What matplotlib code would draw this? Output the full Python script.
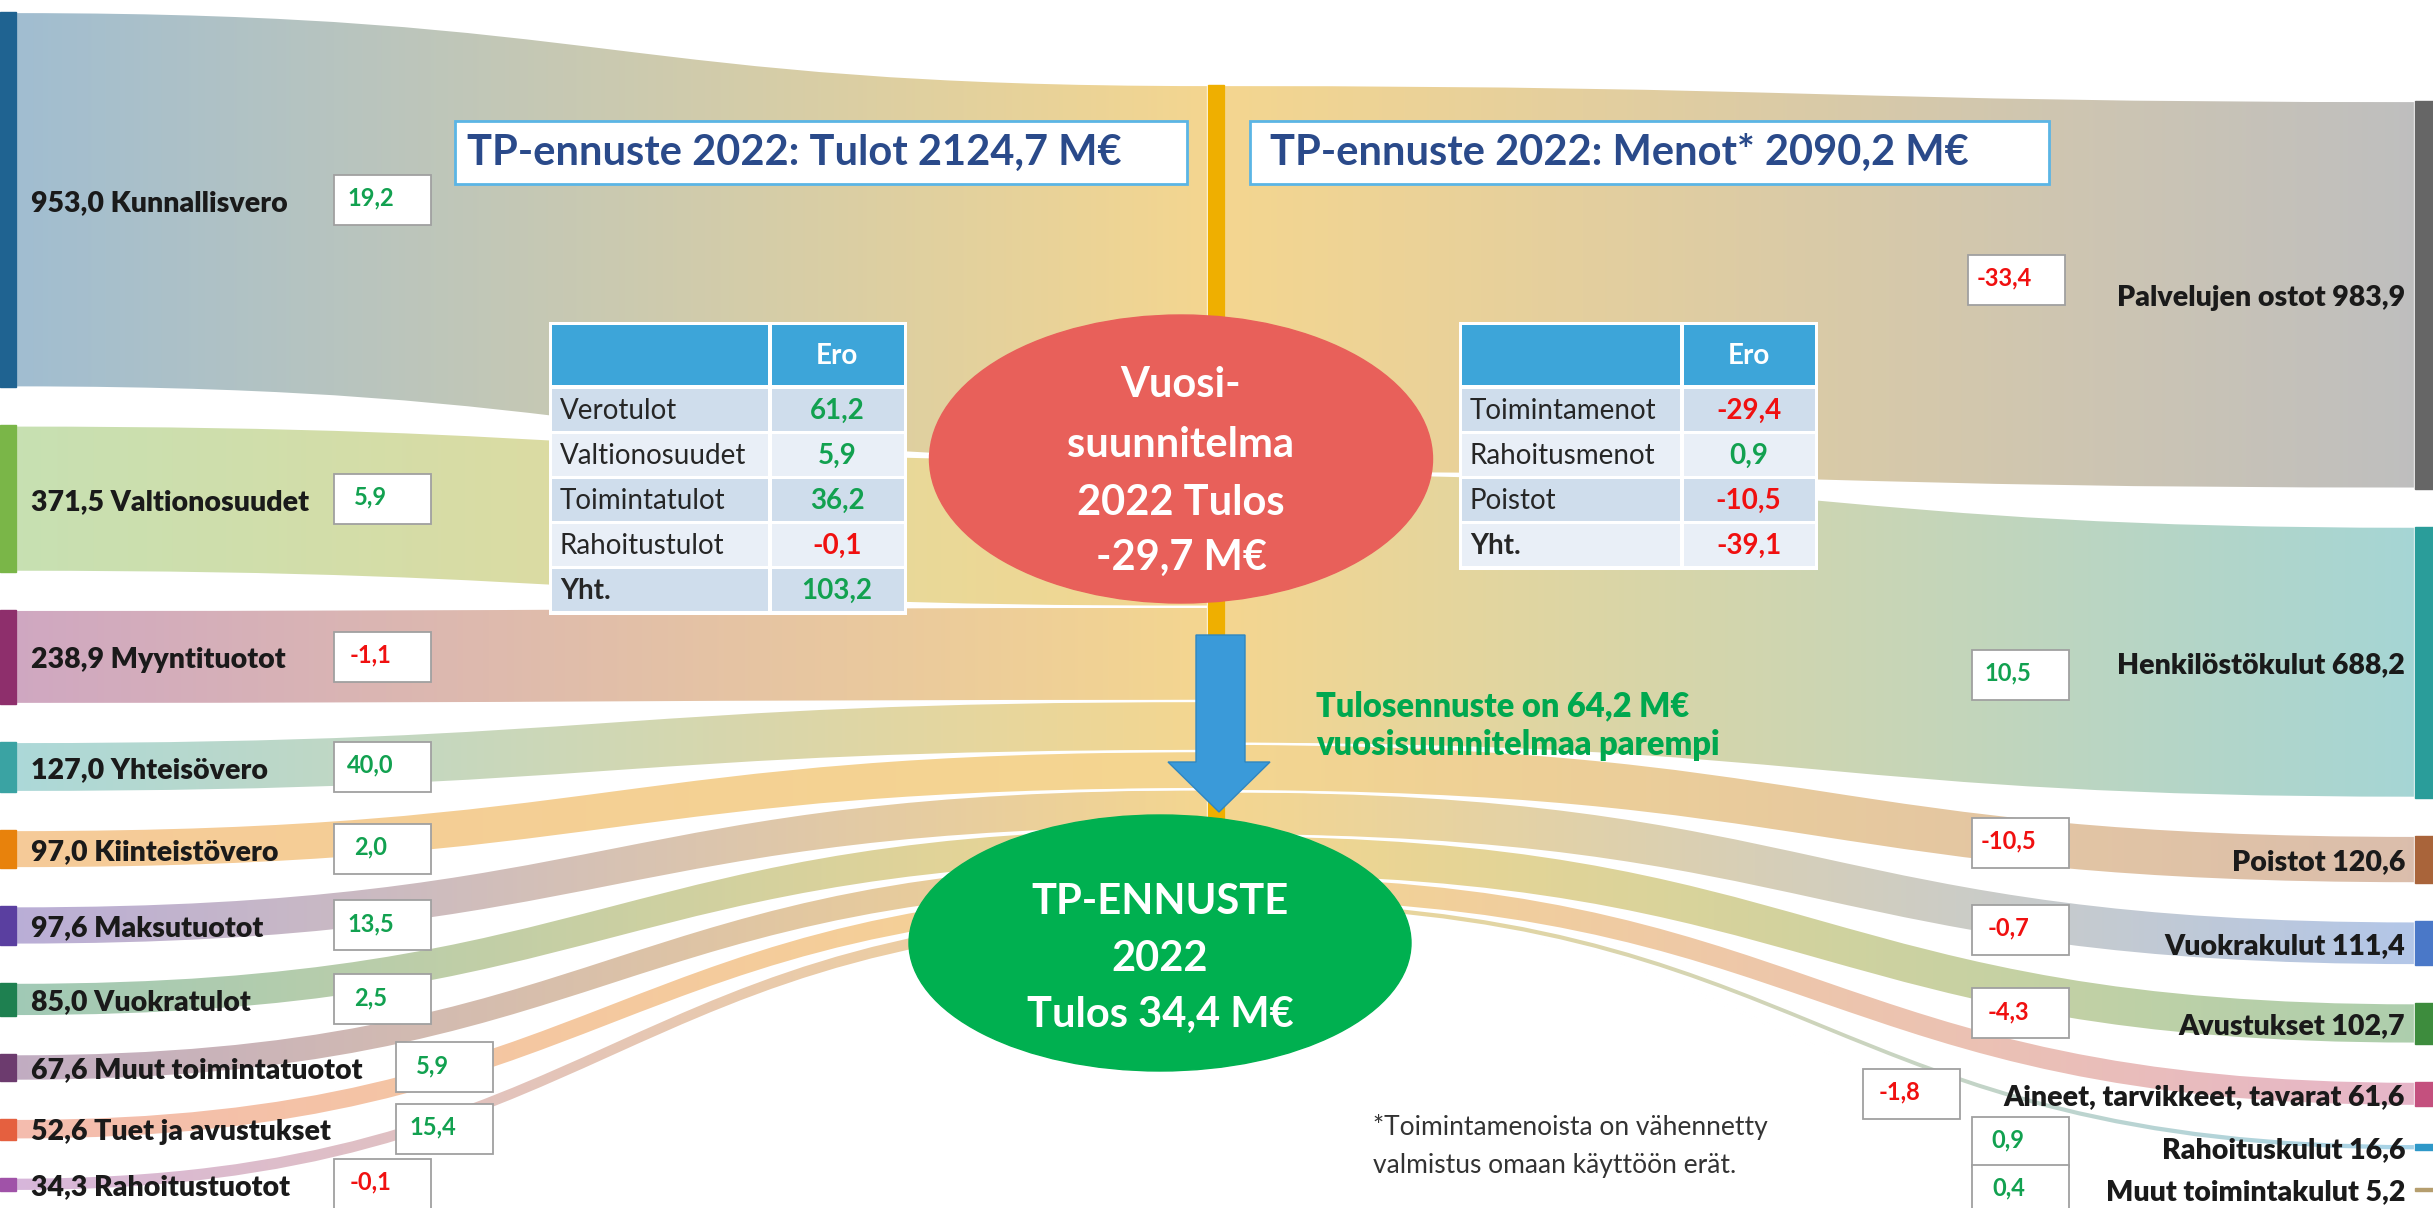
import numpy as np
import matplotlib
matplotlib.use('Agg')
import matplotlib.pyplot as plt
from matplotlib.path import Path
from matplotlib.patches import PathPatch, Rectangle, Ellipse, Polygon
from matplotlib.colors import to_rgb

plt.rcParams['font.family'] = ['Lato', 'DejaVu Sans']

# --- data ---
in_names = ['Kunnallisvero', 'Valtionosuudet', 'Myyntituotot', 'Yhteisövero', 'Kiinteistövero',
            'Maksutuotot', 'Vuokratulot', 'Muut toimintatuotot', 'Tuet ja avustukset', 'Rahoitustuotot']
in_values = [953.0, 371.5, 238.9, 127.0, 97.0, 97.6, 85.0, 67.6, 52.6, 34.3]
in_diff = [19.2, 5.9, -1.1, 40.0, 2.0, 13.5, 2.5, 5.9, 15.4, -0.1]
in_colors = ['#1F6391', '#7AB648', '#8E2F6C', '#3AA3A3', '#E8820C',
             '#5A3FA0', '#1E8050', '#6C3B6E', '#E5603F', '#A052A8']

out_names = ['Palvelujen ostot', 'Henkilöstökulut', 'Poistot', 'Vuokrakulut', 'Avustukset',
             'Aineet, tarvikkeet, tavarat', 'Rahoituskulut', 'Muut toimintakulut']
out_values = [983.9, 688.2, 120.6, 111.4, 102.7, 61.6, 16.6, 5.2]
out_diff = [-33.4, 10.5, -10.5, -0.7, -4.3, -1.8, 0.9, 0.4]
out_colors = ['#666666', '#2A9D9A', '#A9643A', '#4A78C8', '#3D8C3D', '#C4507E', '#2E98C8', '#B59E6E']

tulot_total = 2124.7
menot_total = 2090.2
tp_result = 34.4
plan_result = -29.7
improvement = 64.2

in_table_rows = ['Verotulot', 'Valtionosuudet', 'Toimintatulot', 'Rahoitustulot', 'Yht.']
in_table_vals = [61.2, 5.9, 36.2, -0.1, 103.2]
out_table_rows = ['Toimintamenot', 'Rahoitusmenot', 'Poistot', 'Yht.']
out_table_vals = [-29.4, 0.9, -10.5, -39.1]

# --- layout ---
W, H = 2433, 1208
scale = 0.394
gap = 38
left_top, right_top, center_top = 12, 101, 85
xl1 = 16
xc0, xc1 = 1208, 1224
xr0 = 2415
center_col = '#F4D690'
GREEN, RED = '#12A150', '#F01010'

# box x-centres and y nudges for the small "ero" boxes
in_box_x = [382, 382, 382, 382, 382, 382, 382, 444, 444, 382]
out_box_x = [2016, 2020, 2020, 2020, 2020, 1911, 2020, 2020]
out_box_dy = [-15, 13, -17, -13, -10, 0, -5, 0]


def fmt(v):
    return f'{v:.1f}'.replace('.', ',')


def pale(c, k=0.58):
    return np.array(to_rgb(c)) * (1 - k) + k


fig = plt.figure(figsize=(W / 100, H / 100), dpi=100)
ax = fig.add_axes([0, 0, 1, 1])


def band(x0, x1, t0, b0, t1, b1, c0, c1):
    xm = (x0 + x1) / 2
    verts = [(x0, t0), (xm, t0), (xm, t1), (x1, t1), (x1, b1),
             (xm, b1), (xm, b0), (x0, b0), (x0, t0)]
    codes = [Path.MOVETO, Path.CURVE4, Path.CURVE4, Path.CURVE4, Path.LINETO,
             Path.CURVE4, Path.CURVE4, Path.CURVE4, Path.CLOSEPOLY]
    path = Path(verts, codes)
    clip = PathPatch(path, fc='none', ec='none')
    ax.add_patch(clip)
    g = np.linspace(0, 1, 256)[:, None]
    img = ((1 - g) * c0 + g * c1)[None, :, :]
    im = ax.imshow(img, extent=[x0, x1, max(b0, b1), min(t0, t1)],
                   aspect='auto', interpolation='bilinear', zorder=1)
    im.set_clip_path(clip)
    ax.add_patch(PathPatch(path, fc='none', ec='white', lw=1.6, zorder=2))


def node_stack(values, top):
    pos = []
    y = top
    for v in values:
        pos.append((y, y + v * scale))
        y += v * scale + gap
    return pos


def slot_stack(values, top):
    pos = []
    y = top
    for v in values:
        pos.append((y, y + v * scale))
        y += v * scale
    return pos


cc = np.array(to_rgb(center_col))

# left flows
in_nodes = node_stack(in_values, left_top)
in_slots = slot_stack(in_values, center_top)
for (t0, b0), (t1, b1), c in zip(in_nodes, in_slots, in_colors):
    band(xl1, xc0, t0, b0, t1, b1, pale(c), cc)
    ax.add_patch(Rectangle((0, t0), xl1, b0 - t0, color=c, zorder=3))

# right flows
out_nodes = node_stack(out_values, right_top)
out_slots = slot_stack(out_values, center_top)
for (t0, b0), (t1, b1), c in zip(out_slots, out_nodes, out_colors):
    band(xc1, xr0, t0, b0, t1, b1, cc, pale(c))
    ax.add_patch(Rectangle((xr0, t1), W - xr0, b1 - t1, color=c, zorder=3))

# centre node
ax.add_patch(Rectangle((xc0, center_top), xc1 - xc0, tulot_total * scale,
                       color='#EFAF00', zorder=3))

# title boxes
ax.add_patch(Rectangle((455, 121), 732, 63, fc='white', ec='#5BB5E5', lw=2, zorder=4))
ax.text(467, 153, f'TP-ennuste 2022: Tulot {fmt(tulot_total)} M€', fontsize=30,
        fontweight='bold', color='#2A4A8A', va='center', ha='left', zorder=5)
ax.add_patch(Rectangle((1250, 121), 799, 63, fc='white', ec='#5BB5E5', lw=2, zorder=4))
ax.text(1270, 153, f'TP-ennuste 2022: Menot* {fmt(menot_total)} M€', fontsize=30,
        fontweight='bold', color='#2A4A8A', va='center', ha='left', zorder=5)


def table(x0, xs, x1, rows, vals):
    ax.add_patch(Rectangle((x0 - 3, 322), x1 - x0 + 6, 68 + len(rows) * 45,
                           fc='white', ec='none', zorder=4))
    ax.add_patch(Rectangle((x0, 325), xs - x0 - 2, 60, fc='#3DA5D9', zorder=4))
    ax.add_patch(Rectangle((xs + 2, 325), x1 - xs - 2, 60, fc='#3DA5D9', zorder=4))
    ax.text((xs + x1) / 2, 356, 'Ero', ha='center', va='center', color='white',
            fontsize=20, fontweight='bold', zorder=5)
    for i, (r, v) in enumerate(zip(rows, vals)):
        y = 389 + i * 45
        fc = '#CFDDEC' if i % 2 == 0 else '#E9EFF7'
        ax.add_patch(Rectangle((x0, y), xs - x0 - 2, 42, fc=fc, zorder=4))
        ax.add_patch(Rectangle((xs + 2, y), x1 - xs - 2, 42, fc=fc, zorder=4))
        bold = r == 'Yht.'
        ax.text(x0 + 8, y + 22, r, ha='left', va='center', fontsize=20,
                fontweight='bold' if bold else 'normal', color='#262626', zorder=5)
        ax.text((xs + x1) / 2, y + 22, fmt(v), ha='center', va='center', fontsize=20,
                fontweight='bold', color=GREEN if v >= 0 else RED, zorder=5)


table(552, 770, 904, in_table_rows, in_table_vals)
table(1462, 1682, 1815, out_table_rows, out_table_vals)

# ellipses and arrow
ax.add_patch(Ellipse((1181, 459), 503, 288, color='#E8605A', zorder=6))
for y, s in zip([385, 445, 503, 558], ['Vuosi-', 'suunnitelma', '2022 Tulos', f'{fmt(plan_result)} M€']):
    ax.text(1181, y, s, ha='center', va='center', color='white', fontsize=30,
            fontweight='bold', zorder=7)

ax.add_patch(Polygon([(1196, 635), (1245, 635), (1245, 762), (1270, 762), (1219, 812),
                      (1168, 762), (1196, 762)], closed=True, fc='#3A9AD9',
                     ec='#2F86C0', lw=1, zorder=6))

ax.add_patch(Ellipse((1160, 943), 502, 256, color='#00B050', zorder=7))
for y, s in zip([902, 959, 1015], ['TP-ENNUSTE', '2022', f'Tulos {fmt(tp_result)} M€']):
    ax.text(1160, y, s, ha='center', va='center', color='white', fontsize=30,
            fontweight='bold', zorder=8)

ax.text(1316, 706, f'Tulosennuste on {fmt(improvement)} M€', color='#00A84F',
        fontsize=23.5, fontweight='heavy', va='center', ha='left', zorder=8)
ax.text(1316, 745, 'vuosisuunnitelmaa parempi', color='#00A84F',
        fontsize=23.5, fontweight='heavy', va='center', ha='left', zorder=8)

ax.text(1373, 1127, '*Toimintamenoista on vähennetty', color='#333333',
        fontsize=19, va='center', ha='left', zorder=8)
ax.text(1373, 1166, 'valmistus omaan käyttöön erät.', color='#333333',
        fontsize=19, va='center', ha='left', zorder=8)


def ero_box(xc, yc, v):
    w, h = 97, 50
    ax.add_patch(Rectangle((xc - w / 2, yc - h / 2), w, h, fc='white', ec='#A0A0A0',
                           lw=1.3, zorder=8))
    ax.text(xc - w / 2 + 0.38 * w, yc - 2, fmt(v), ha='center', va='center', fontsize=17,
            fontweight='bold', color=GREEN if v >= 0 else RED, zorder=9)


# node labels
for (t, b), name, v, d, bx in zip(in_nodes, in_names, in_values, in_diff, in_box_x):
    yc = (t + b) / 2
    ax.text(31, yc + 3, f'{fmt(v)} {name}', ha='left', va='center', fontsize=20.5,
            fontweight='heavy', color='#1A1A1A', zorder=8)
    ero_box(bx, yc, d)

for (t, b), name, v, d, bx, dy in zip(out_nodes, out_names, out_values, out_diff,
                                       out_box_x, out_box_dy):
    yc = (t + b) / 2
    ax.text(2405, yc + 3, f'{name} {fmt(v)}', ha='right', va='center', fontsize=20.5,
            fontweight='heavy', color='#1A1A1A', zorder=8)
    ero_box(bx, yc + dy, d)

ax.set_xlim(0, W)
ax.set_ylim(H, 0)
ax.axis('off')
fig.savefig('out.png', dpi=100)
